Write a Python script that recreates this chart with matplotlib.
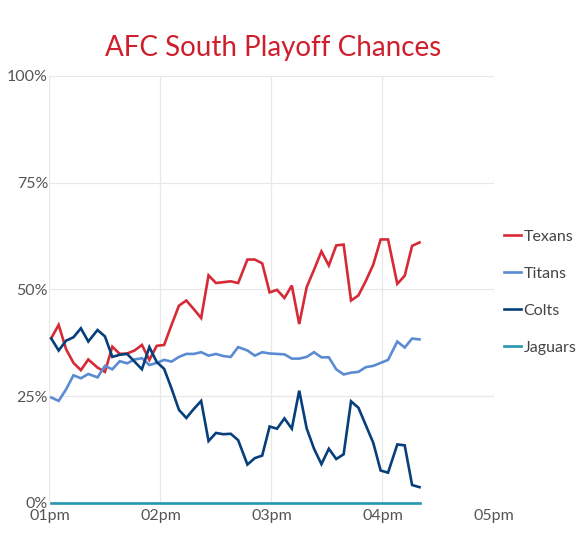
import matplotlib
matplotlib.use("Agg")
import matplotlib.pyplot as plt

# minutes after 1pm for each snapshot
minutes = [1, 5, 9, 13, 17, 21, 26, 30, 34, 38, 42, 46, 50, 54, 58, 62, 66, 70, 74, 78,
           82, 86, 90, 94, 98, 102, 107, 111, 115, 119, 123, 127, 131, 135, 139, 143, 147,
           151, 155, 159, 163, 167, 171, 175, 179, 183, 188, 192, 196, 200]

texans = [38.6, 41.7, 36.0, 32.8, 31.1, 33.6, 31.7, 30.7, 36.6, 34.9, 35.0, 35.7, 37.0,
          33.5, 36.8, 37.0, 41.7, 46.2, 47.4, 45.4, 43.3, 53.3, 51.5, 51.7, 51.9, 51.5,
          57.0, 57.0, 56.1, 49.3, 49.9, 48.0, 50.9, 41.9, 50.5, 54.6, 58.9, 55.6, 60.3,
          60.5, 47.4, 48.6, 52.0, 55.8, 61.7, 61.7, 51.3, 53.2, 60.2, 61.0]
titans = [24.7, 23.9, 26.6, 29.9, 29.2, 30.2, 29.4, 32.1, 31.3, 33.2, 32.7, 33.6, 33.9,
          32.3, 32.8, 33.5, 33.1, 34.2, 34.9, 34.9, 35.3, 34.5, 34.9, 34.4, 34.2, 36.5,
          35.7, 34.5, 35.3, 35.0, 34.9, 34.8, 33.8, 33.8, 34.2, 35.3, 34.1, 34.1, 31.3,
          30.1, 30.5, 30.7, 31.8, 32.1, 32.8, 33.5, 37.8, 36.4, 38.5, 38.3]
colts = [38.5, 35.7, 38.0, 38.8, 40.9, 37.8, 40.5, 39.0, 34.2, 34.7, 34.9, 33.1, 31.3,
         36.5, 33.0, 31.4, 26.8, 21.8, 19.9, 22.0, 23.9, 14.5, 16.4, 16.1, 16.2, 14.7,
         9.0, 10.5, 11.1, 17.9, 17.4, 19.8, 17.4, 26.3, 17.5, 12.7, 9.1, 12.7, 10.3,
         11.4, 23.8, 22.3, 18.2, 14.1, 7.6, 7.1, 13.7, 13.5, 4.2, 3.7]
jaguars = [0.0, 0.0, 0.0, 0.0, 0.0, 0.0, 0.0, 0.0, 0.0, 0.0, 0.0, 0.0, 0.0, 0.0, 0.0,
           0.0, 0.0, 0.0, 0.0, 0.0, 0.0, 0.0, 0.0, 0.0, 0.0, 0.0, 0.0, 0.0, 0.0, 0.0,
           0.0, 0.0, 0.0, 0.0, 0.0, 0.0, 0.0, 0.0, 0.0, 0.0, 0.0, 0.0, 0.0, 0.0, 0.0,
           0.0, 0.0, 0.0, 0.0, 0.0]

teams = ["Texans", "Titans", "Colts", "Jaguars"]
colors = ["#d62a36", "#5b8bd2", "#073f7a", "#2596ad"]

hour_ticks = [0, 60, 120, 180, 240]
hour_labels = ["01pm", "02pm", "03pm", "04pm", "05pm"]
pct_ticks = [0, 25, 50, 75, 100]
pct_labels = ["0%", "25%", "50%", "75%", "100%"]

plt.rcParams['font.family'] = ['Lato', 'DejaVu Sans']

fig = plt.figure(figsize=(5.76, 5.42), dpi=100)
ax = fig.add_axes([0.0858, 0.072, 0.771, 0.788])

for name, vals, c in zip(teams, [texans, titans, colts, jaguars], colors):
    ax.plot(minutes, vals, color=c, linewidth=1.9, label=name, clip_on=False,
            solid_joinstyle='miter')

ax.set_xlim(0, 240)
ax.set_ylim(0, 100)
ax.set_xticks(hour_ticks)
ax.set_xticklabels(hour_labels)
ax.set_yticks(pct_ticks)
ax.set_yticklabels(pct_labels)
ax.tick_params(length=0, labelsize=11.5, labelcolor="#555555")
ax.tick_params(axis='y', pad=1)
ax.tick_params(axis='x', pad=4)
ax.grid(True, color="#e8e8e8", linewidth=0.9)
ax.set_axisbelow(True)
for s in ax.spines.values():
    s.set_visible(False)

fig.text(0.474, 0.912, "AFC South Playoff Chances", color="#cf1f2d",
         fontsize=20, ha="center", va="center")

fig.legend(loc="center left", bbox_to_anchor=(0.862, 0.461), frameon=False,
           fontsize=11.5, handlelength=1.05, handletextpad=0.15, labelspacing=1.42,
           borderpad=0, labelcolor="#444444")

fig.savefig("out.png", dpi=100)
